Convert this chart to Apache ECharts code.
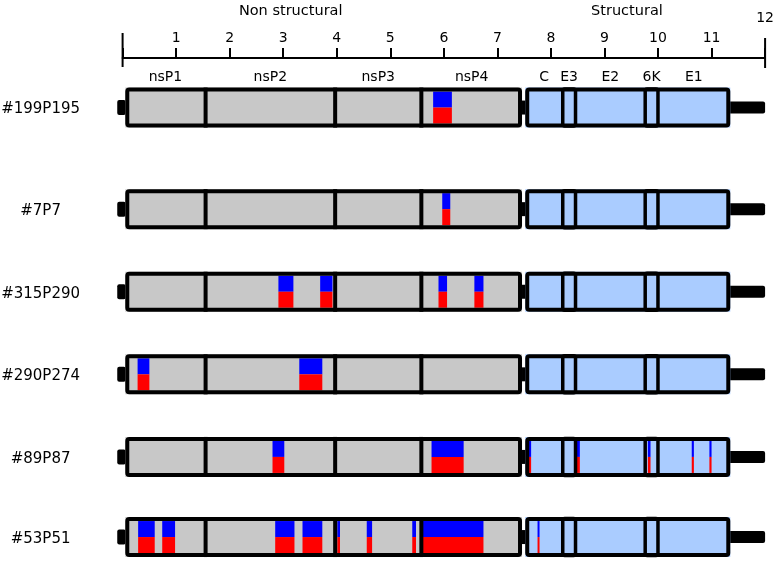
<!DOCTYPE html>
<html>
<head>
<meta charset="utf-8">
<script src="https://cdn.jsdelivr.net/npm/echarts@6/dist/echarts.min.js"></script>
<style>html,body{margin:0;padding:0;background:#fff;}#main{width:777px;height:561px;}</style>
</head>
<body>
<div id="main"></div>
<script>
// ---- data ----
const samples = ['#199P195', '#7P7', '#315P290', '#290P274', '#89P87', '#53P51'];
const rowPos = [0, 1.23, 2.23, 3.23, 4.23, 5.2];
const genes = ['nsP1', 'nsP2', 'nsP3', 'nsP4', 'C', 'E3', 'E2', '6K', 'E1'];
const geneStart = [0.05, 1.55, 3.97, 5.58, 7.52, 8.23, 8.45, 9.77, 9.99];
const geneEnd   = [1.55, 3.97, 5.58, 7.46, 8.23, 8.45, 9.77, 9.99, 11.35];
const regionNames = ['Non structural', 'Structural'];
const regionCenter = [3.14, 9.42];
const utr5 = [-0.1, 0.06];
const junction = [7.44, 7.54];
const utr3 = [11.3, 12.0];
const tickValues = [0, 1, 2, 3, 4, 5, 6, 7, 8, 9, 10, 11, 12];
// mutated regions [start, end] per sample
const mut199P195 = [[5.80, 6.15]];
const mut7P7 = [[5.97, 6.12]];
const mut315P290 = [[2.91, 3.19], [3.69, 3.92], [5.90, 6.06], [6.57, 6.74]];
const mut290P274 = [[0.28, 0.50], [3.30, 3.73]];
const mut89P87 = [[2.80, 3.02], [5.77, 6.37], [7.57, 7.63], [8.48, 8.54], [9.81, 9.86], [10.63, 10.67], [10.96, 11.00]];
const mut53P51 = [[0.29, 0.60], [0.74, 0.98], [2.85, 3.21], [3.36, 3.73], [4.01, 4.06], [4.56, 4.66], [5.41, 5.48], [5.59, 6.74], [7.54, 7.59], [7.75, 7.78]];
const mutations = [mut199P195, mut7P7, mut315P290, mut290P274, mut89P87, mut53P51];

// ---- style ----
const FONT = 'DejaVu Sans';
const BORDER = 4;
const BOX_H = 40;
const GREY = '#c8c8c8';
const LBLUE = '#aaccff';
const BLUE = '#0000ff';
const RED = '#ff0000';

const chart = echarts.init(document.getElementById('main'), null, {renderer: 'canvas'});

function renderRow(params, api) {
  const i = params.dataIndex;
  const yv = rowPos[i];
  const X = v => api.coord([v, yv])[0];
  const yc = api.coord([0, yv])[1];
  const top = yc - BOX_H / 2;
  const inTop = top + BORDER;
  const inBot = top + BOX_H - BORDER;
  const ch = [];
  // UTRs and junction
  ch.push({type: 'rect', shape: {x: X(utr5[0]), y: yc - 7.5, width: X(utr5[1]) - X(utr5[0]), height: 15, r: 2}, style: {fill: '#000'}});
  ch.push({type: 'rect', shape: {x: X(utr3[0]), y: yc - 6, width: X(utr3[1]) - X(utr3[0]), height: 12, r: 2}, style: {fill: '#000'}});
  ch.push({type: 'rect', shape: {x: X(junction[0]), y: yc - 7, width: X(junction[1]) - X(junction[0]), height: 14}, style: {fill: '#000'}});
  // fills
  const nsS = geneStart[0], nsE = geneEnd[3], sS = geneStart[4], sE = geneEnd[8];
  ch.push({type: 'rect', shape: {x: X(nsS), y: top, width: X(nsE) - X(nsS), height: BOX_H}, style: {fill: GREY}});
  ch.push({type: 'rect', shape: {x: X(sS), y: top, width: X(sE) - X(sS), height: BOX_H}, style: {fill: LBLUE}});
  // mutations
  mutations[i].forEach(m => {
    const x0 = X(m[0]), w = Math.max(X(m[1]) - x0, 2);
    ch.push({type: 'rect', shape: {x: x0, y: inTop, width: w, height: yc - inTop}, style: {fill: BLUE}});
    ch.push({type: 'rect', shape: {x: x0, y: yc, width: w, height: inBot - yc}, style: {fill: RED}});
  });
  // outlines
  const outline = (a, b) => ({type: 'rect', shape: {x: X(a) + BORDER / 2, y: top + BORDER / 2, width: X(b) - X(a) - BORDER, height: BOX_H - BORDER, r: 2},
    style: {fill: null, stroke: '#000', lineWidth: BORDER}});
  ch.push(outline(nsS, nsE));
  ch.push(outline(sS, sE));
  // small structural boxes (E3, 6K)
  [5, 7].forEach(g => {
    ch.push({type: 'rect', shape: {x: X(geneStart[g]) - 0.5, y: top + BORDER / 2 - 0.5, width: X(geneEnd[g]) - X(geneStart[g]) + 1, height: BOX_H - BORDER + 1, r: 2},
      style: {fill: null, stroke: '#000', lineWidth: BORDER - 0.5}});
  });
  // nonstructural dividers
  [1, 2, 3].forEach(g => {
    const x = X(geneStart[g]);
    ch.push({type: 'line', shape: {x1: x, y1: top, x2: x, y2: top + BOX_H}, style: {stroke: '#000', lineWidth: BORDER}});
  });
  // sample label
  ch.push({type: 'text', x: X(0) - 82, y: yc + 2, style: {text: samples[i], fill: '#000', font: '15px "' + FONT + '"', align: 'center', verticalAlign: 'middle'}});
  return {type: 'group', children: ch};
}

function renderGeneLabel(params, api) {
  const i = params.dataIndex;
  const p = api.coord([(geneStart[i] + geneEnd[i]) / 2, rowPos[0]]);
  return {type: 'text', x: p[0], y: p[1] - BOX_H / 2 - 10,
    style: {text: genes[i], fill: '#000', font: '14px "' + FONT + '"', align: 'center', verticalAlign: 'middle'}};
}

function renderRegion(params, api) {
  const i = params.dataIndex;
  const gridTop = api.coord([0, -0.6])[1];
  const x = api.coord([regionCenter[i], 0])[0];
  return {type: 'text', x: x, y: gridTop - 47,
    style: {text: regionNames[i], fill: '#000', font: '14.5px "' + FONT + '"', align: 'center', verticalAlign: 'middle'}};
}

function renderAxisEnds(params, api) {
  const gridTop = api.coord([0, -0.6])[1];
  const x0 = api.coord([tickValues[0], 0])[0];
  const x1 = api.coord([tickValues[tickValues.length - 1], 0])[0];
  return {type: 'group', children: [
    {type: 'line', shape: {x1: x0, y1: gridTop - 25, x2: x0, y2: gridTop + 9}, style: {stroke: '#000', lineWidth: 2}},
    {type: 'line', shape: {x1: x1, y1: gridTop - 20, x2: x1, y2: gridTop + 10}, style: {stroke: '#000', lineWidth: 2}}
  ]};
}

const option = {
  animation: false,
  backgroundColor: '#fff',
  grid: {left: 122.6, right: 9, top: 58, bottom: 0},
  xAxis: {
    type: 'value', position: 'top', min: 0, max: 12, interval: 1,
    axisLine: {onZero: false, lineStyle: {color: '#000', width: 2}},
    axisTick: {length: 10, lineStyle: {color: '#000', width: 2}},
    splitLine: {show: false},
    axisLabel: {
      margin: 13, color: '#000', fontFamily: FONT, fontSize: 14,
      formatter: v => v === tickValues[0] ? '' : (v === tickValues[tickValues.length - 1] ? '{t|' + v + '}' : String(v)),
      rich: {t: {fontFamily: FONT, fontSize: 14, color: '#000', padding: [0, 0, 20, 0]}}
    }
  },
  yAxis: {type: 'value', min: -0.6, max: 5.49, inverse: true, show: false},
  series: [
    {type: 'custom', renderItem: renderRow, data: samples.map((s, i) => [0, rowPos[i]]), clip: false, silent: true},
    {type: 'custom', renderItem: renderGeneLabel, data: genes.map((g, i) => [(geneStart[i] + geneEnd[i]) / 2, rowPos[0]]), clip: false, silent: true},
    {type: 'custom', renderItem: renderRegion, data: regionNames.map((r, i) => [regionCenter[i], 0]), clip: false, silent: true},
    {type: 'custom', renderItem: renderAxisEnds, data: [[0, 0]], clip: false, silent: true}
  ]
};
chart.setOption(option);
</script>
</body>
</html>
